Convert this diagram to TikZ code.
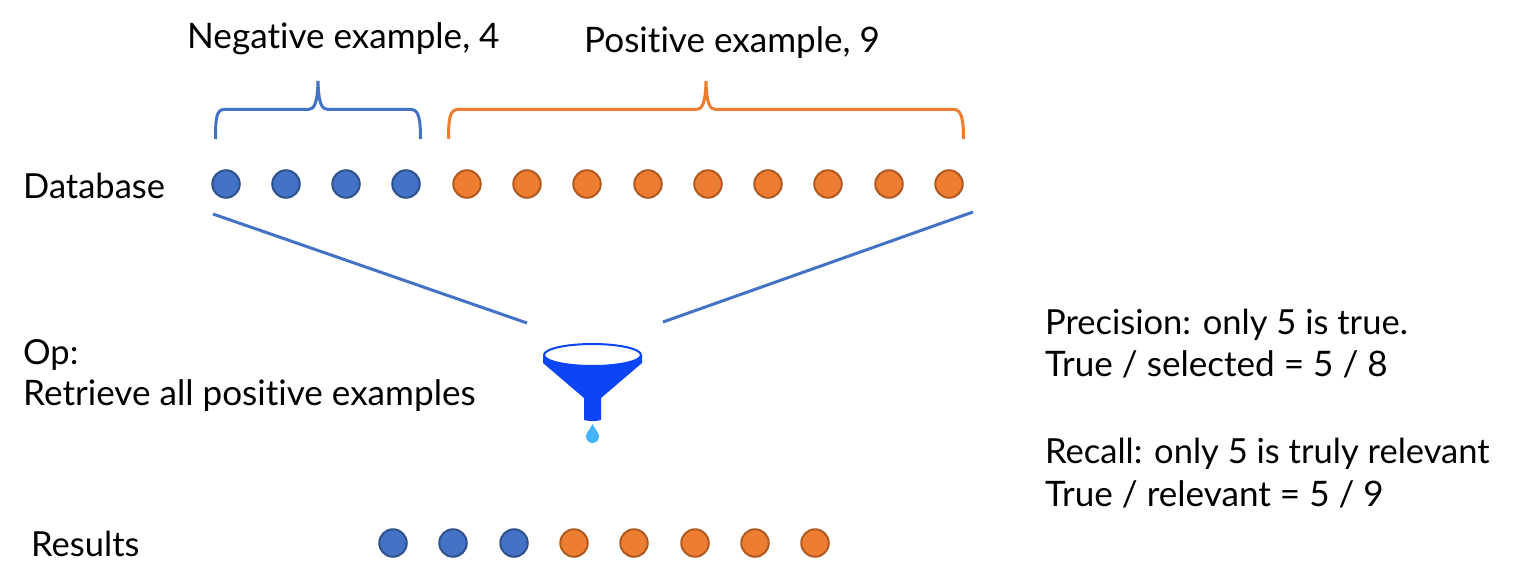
\documentclass[tikz,border=0pt]{standalone}
\usepackage{fontspec}
\setmainfont{Lato}[Ligatures=CommonOff]
\definecolor{bluefill}{HTML}{4472C4}
\definecolor{blueedge}{HTML}{2F528F}
\definecolor{orangefill}{HTML}{ED7D31}
\definecolor{orangeedge}{HTML}{AE5A21}
\definecolor{funnelblue}{HTML}{0B45F5}
\definecolor{dropblue}{HTML}{45B4FF}
\tikzset{
  negdot/.style={circle,draw=blueedge,fill=bluefill,line width=2pt,minimum size=27.5pt,inner sep=0pt},
  posdot/.style={circle,draw=orangeedge,fill=orangefill,line width=2pt,minimum size=27.5pt,inner sep=0pt},
  lbl/.style={font=\fontsize{34.5}{40}\selectfont,anchor=base west,inner sep=0pt,text=black},
  lblwide/.style={font=\fontsize{35.1}{40}\selectfont,anchor=base west,inner sep=0pt,text=black},
  bracenegative/.style={draw=bluefill,line width=3pt},
  bracepositive/.style={draw=orangefill,line width=3pt},
  wedgeline/.style={draw=bluefill,line width=3pt}
}
\begin{document}
\begin{tikzpicture}[x=1pt,y=-1pt]
\useasboundingbox (0,0) rectangle (1514,588);
\fill[white] (0,0) rectangle (1514,588);
% labels
\node[lblwide] (tneg) at (187,49) {Negative example, 4};
\node[lblwide] (tpos) at (584,53) {Positive example, 9};
\node[lbl] (tdb) at (23,198) {Database};
\node[lbl] (top) at (23,364) {Op:};
\node[lblwide] (tret) at (23,405) {Retrieve all positive examples};
\node[lbl] (tres) at (31,556) {Results};
\node[lbl] (tp1) at (1045,334) {Precision: only 5 is true.};
\node[lblwide] (tp2) at (1045,376) {True / selected = 5 / 8};
\node[lbl] (tr1) at (1045,463) {Recall: only 5 is truly relevant};
\node[lblwide] (tr2) at (1045,506) {True / relevant = 5 / 9};
% database dots
\foreach \n/\x in {1/226,2/286,3/346,4/406}
  \node[negdot] (d\n) at (\x,184) {};
\foreach \n/\x in {5/467,6/527,7/587,8/648,9/708,10/768,11/828,12/889,13/949}
  \node[posdot] (d\n) at (\x,184) {};
% result dots
\foreach \n/\x in {1/393,2/453,3/514}
  \node[negdot] (r\n) at (\x,543) {};
\foreach \n/\x in {4/574,5/634,6/695,7/755,8/815}
  \node[posdot] (r\n) at (\x,543) {};
% braces
\draw[bracenegative] (215.5,139) .. controls (215.5,118) and (216.5,109.5) .. (224,109.5)
  -- (308,109.5) .. controls (314,109.5) and (317.5,104) .. (318,81)
  .. controls (318.5,104) and (322,109.5) .. (328,109.5)
  -- (411,109.5) .. controls (418.5,109.5) and (420.5,118) .. (420.5,139);
\draw[bracepositive] (448.5,139) .. controls (448.5,118) and (450,109.5) .. (458,109.5)
  -- (696,109.5) .. controls (702,109.5) and (705.5,104) .. (706,81)
  .. controls (706.5,104) and (710,109.5) .. (716,109.5)
  -- (954,109.5) .. controls (961,109.5) and (963.5,118) .. (963.5,139);
% wedge lines
\coordinate (la) at (213,214);
\coordinate (lb) at (527,323);
\coordinate (ra) at (973,212);
\coordinate (rb) at (663,322);
\draw[wedgeline] (la) -- (lb);
\draw[wedgeline] (ra) -- (rb);
% funnel
\fill[funnelblue] (543,355) -- (543,363) -- (584,398) -- (584,420) .. controls (590,421.5) and (595,421.5) .. (601,420)
  -- (601,398) -- (642,363) -- (642,355) -- cycle;
\filldraw[fill=white,draw=funnelblue,line width=2pt] (592.5,355) ellipse [x radius=48.5,y radius=11];
\fill[dropblue] (592.5,424) .. controls (590,430) and (586,432) .. (586,436.5) arc[start angle=180,end angle=0,radius=6.5]
  .. controls (599,432) and (595,430) .. (592.5,424) -- cycle;
\end{tikzpicture}
\end{document}
